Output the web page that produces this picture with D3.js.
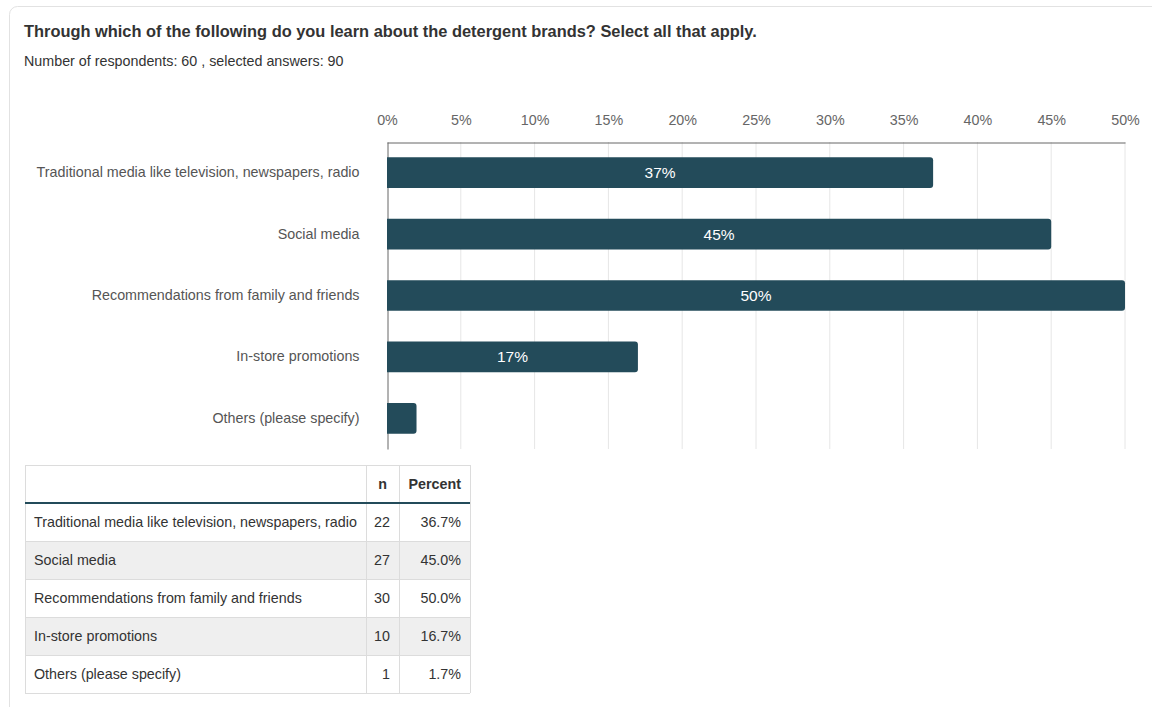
<!DOCTYPE html>
<html>
<head>
<meta charset="utf-8">
<script src="https://cdn.jsdelivr.net/npm/d3@7"></script>
<style>
  html, body { margin: 0; padding: 0; background: #fff; }
  svg { display: block; font-family: "Liberation Sans", Arial, Helvetica, sans-serif; }
</style>
</head>
<body>
<svg id="chart" width="1152" height="707"></svg>
<script>
const title = "Through which of the following do you learn about the detergent brands? Select all that apply.";
const subtitle = "Number of respondents: 60 , selected answers: 90";
const categories = [
  "Traditional media like television, newspapers, radio",
  "Social media",
  "Recommendations from family and friends",
  "In-store promotions",
  "Others (please specify)"
];
const counts = [22, 27, 30, 10, 1];
const percents = [36.7, 45.0, 50.0, 16.7, 1.7];
// whole-number shares shown on the bars
const barPercents = [37, 45, 50, 17, 2];
const tickValues = [0, 5, 10, 15, 20, 25, 30, 35, 40, 45, 50];
const tableHeaders = ["", "n", "Percent"];

const barColor = "#234b5a";
const bodySize = 14.3;
const svg = d3.select("#chart");

// card outline
svg.append("rect")
  .attr("x", 9.5).attr("y", 6.5)
  .attr("width", 1160).attr("height", 720)
  .attr("rx", 8)
  .attr("fill", "#fff").attr("stroke", "#e2e2e2");

svg.append("text")
  .attr("x", 24).attr("y", 37)
  .attr("font-size", 16.4).attr("font-weight", "bold").attr("fill", "#333")
  .text(title);
svg.append("text")
  .attr("x", 24).attr("y", 66)
  .attr("font-size", bodySize).attr("fill", "#333")
  .text(subtitle);

// bar chart
const x = d3.scaleLinear().domain([0, 50]).range([387, 1125]);
const y = d3.scaleBand().domain(categories).range([142, 449]).paddingInner(0.5).paddingOuter(0.25);

const plot = svg.append("g");

plot.selectAll("line.grid")
  .data(tickValues.slice(1))
  .join("line")
  .attr("class", "grid")
  .attr("x1", d => x(d)).attr("x2", d => x(d))
  .attr("y1", 142).attr("y2", 449)
  .attr("stroke", "#e6e6e6").attr("stroke-width", 1);

const xAxis = plot.append("g")
  .attr("transform", "translate(0,142.5)")
  .call(d3.axisTop(x).tickValues(tickValues).tickFormat(d => d + "%").tickSize(0).tickPadding(18));
xAxis.select(".domain").attr("stroke", "#666");
xAxis.selectAll("text").attr("font-size", bodySize).attr("fill", "#666").attr("font-family", null);

const yAxis = plot.append("g")
  .attr("transform", "translate(387.5,0)")
  .call(d3.axisLeft(y).tickSize(0).tickPadding(28));
yAxis.select(".domain").attr("stroke", "#666");
yAxis.selectAll("text").attr("font-size", bodySize).attr("fill", "#555").attr("font-family", null);

const rows = categories.map((c, i) => ({ c, n: counts[i], p: percents[i], b: barPercents[i] }));

// bars with slightly rounded right ends
plot.selectAll("path.bar")
  .data(rows)
  .join("path")
  .attr("class", "bar")
  .attr("fill", barColor)
  .attr("d", d => {
    const x0 = x(0), x1 = x(d.b), y0 = y(d.c), h = y.bandwidth(), r = 3;
    return `M${x0},${y0}H${x1 - r}Q${x1},${y0} ${x1},${y0 + r}V${y0 + h - r}Q${x1},${y0 + h} ${x1 - r},${y0 + h}H${x0}Z`;
  });

plot.selectAll("text.val")
  .data(rows.filter(d => d.b >= 5))
  .join("text")
  .attr("class", "val")
  .attr("x", d => (x(0) + x(d.b)) / 2)
  .attr("y", d => y(d.c) + y.bandwidth() / 2)
  .attr("dy", "0.35em")
  .attr("text-anchor", "middle")
  .attr("font-size", 15.5).attr("fill", "#fff")
  .text(d => d.b + "%");

// table
const tbl = svg.append("g");
const colX = [25, 366, 399, 470];
const headTop = 465, headH = 38, rowH = 38;
const tblBottom = headTop + headH + rowH * rows.length;

tbl.selectAll("rect.row")
  .data(rows)
  .join("rect")
  .attr("x", colX[0]).attr("y", (d, i) => headTop + headH + i * rowH)
  .attr("width", colX[3] - colX[0]).attr("height", rowH)
  .attr("fill", (d, i) => i % 2 ? "#efefef" : "#fff");

// horizontal rules
tbl.selectAll("line.h")
  .data(d3.range(rows.length + 1).map(i => headTop + headH + i * rowH).concat([headTop]))
  .join("line")
  .attr("x1", colX[0]).attr("x2", colX[3])
  .attr("y1", d => d + 0.5).attr("y2", d => d + 0.5)
  .attr("stroke", "#dcdcdc");
// vertical rules
tbl.selectAll("line.v")
  .data(colX)
  .join("line")
  .attr("x1", d => d + 0.5).attr("x2", d => d + 0.5)
  .attr("y1", headTop).attr("y2", tblBottom)
  .attr("stroke", "#dcdcdc");
// header underline
tbl.append("line")
  .attr("x1", colX[0]).attr("x2", colX[3])
  .attr("y1", headTop + headH).attr("y2", headTop + headH)
  .attr("stroke", barColor).attr("stroke-width", 2);

tbl.selectAll("text.head")
  .data(tableHeaders.slice(1))
  .join("text")
  .attr("x", (d, i) => i === 0 ? (colX[1] + colX[2]) / 2 : colX[3] - 9)
  .attr("y", headTop + headH / 2)
  .attr("dy", "0.35em")
  .attr("text-anchor", (d, i) => i === 0 ? "middle" : "end")
  .attr("font-size", bodySize).attr("font-weight", "bold").attr("fill", "#333")
  .text(d => d);

const cells = tbl.selectAll("g.r")
  .data(rows)
  .join("g")
  .attr("transform", (d, i) => `translate(0,${headTop + headH + i * rowH + rowH / 2})`);
cells.append("text")
  .attr("x", colX[0] + 9).attr("dy", "0.35em")
  .attr("font-size", bodySize).attr("fill", "#333")
  .text(d => d.c);
cells.append("text")
  .attr("x", colX[2] - 9).attr("dy", "0.35em").attr("text-anchor", "end")
  .attr("font-size", bodySize).attr("fill", "#333")
  .text(d => d.n);
cells.append("text")
  .attr("x", colX[3] - 9).attr("dy", "0.35em").attr("text-anchor", "end")
  .attr("font-size", bodySize).attr("fill", "#333")
  .text(d => d.p.toFixed(1) + "%");
</script>
</body>
</html>
